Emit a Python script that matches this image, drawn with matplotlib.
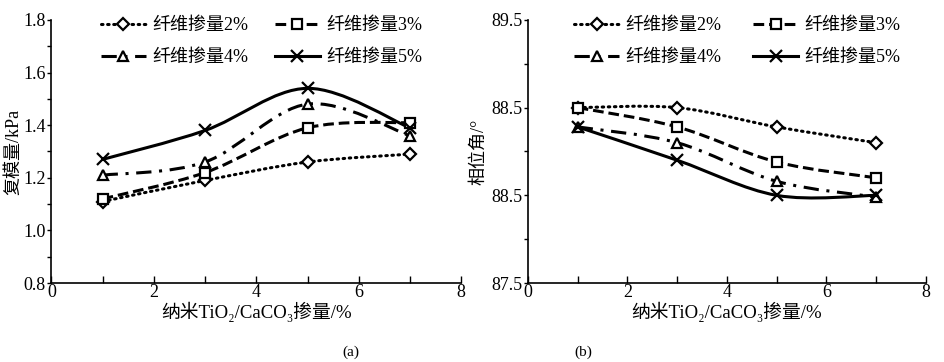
import matplotlib
matplotlib.use('Agg')
import matplotlib.pyplot as plt
from matplotlib.path import Path
from matplotlib.patches import PathPatch
from matplotlib.lines import Line2D
from matplotlib.ticker import MultipleLocator, FixedLocator

plt.rcParams['font.family'] = ['Liberation Serif', 'Noto Sans CJK SC', 'DejaVu Sans']

dosage = [1, 3, 5, 7]
series_names = ['纤维掺量2%', '纤维掺量3%', '纤维掺量4%', '纤维掺量5%']

modulus = [
    [1.11, 1.19, 1.26, 1.29],
    [1.12, 1.22, 1.39, 1.41],
    [1.21, 1.26, 1.48, 1.36],
    [1.27, 1.38, 1.54, 1.39],
]
phase = [
    [88.50, 88.50, 88.39, 88.30],
    [88.50, 88.39, 88.19, 88.10],
    [88.39, 88.30, 88.08, 87.99],
    [88.39, 88.20, 88.00, 88.00],
]
phase_ticks = [87.5, 88.0, 88.5, 89.0]
phase_ticklabels = ['87.5', '88.5', '88.5', '89.5']

styles = [
    dict(ls=(0, (0.5, 1.5)), cap='round', marker='D', ms=6),
    dict(ls=(0, (3.5, 1.6)), cap='butt', marker='s', ms=7),
    dict(ls=(0, (5, 2.5, 1, 2.5)), cap='butt', marker='^', ms=7),
    dict(ls='-', cap='butt', marker='x', ms=8),
]
LW = 2.2


def smooth_path(xs, ys):
    # Catmull-Rom style smoothing drawn as cubic Bezier segments
    pts = list(zip(xs, ys))
    n = len(pts)
    verts = [pts[0]]
    codes = [Path.MOVETO]
    for i in range(n - 1):
        p0 = pts[max(i - 1, 0)]
        p1 = pts[i]
        p2 = pts[i + 1]
        p3 = pts[min(i + 2, n - 1)]
        c1 = (p1[0] + (p2[0] - p0[0]) / 6, p1[1] + (p2[1] - p0[1]) / 6)
        c2 = (p2[0] - (p3[0] - p1[0]) / 6, p2[1] - (p3[1] - p1[1]) / 6)
        verts += [c1, c2, p2]
        codes += [Path.CURVE4] * 3
    return Path(verts, codes)


def draw_panel(ax, data, leg_x, colsp):
    handles = []
    for ys, st, name in zip(data, styles, series_names):
        patch = PathPatch(smooth_path(dosage, ys), fill=False, lw=LW,
                          ls=st['ls'], capstyle=st['cap'],
                          edgecolor='black', zorder=2)
        ax.add_patch(patch)
        ax.plot(dosage, ys, ls='none', marker=st['marker'], ms=st['ms'],
                mfc='white', mec='black', mew=1.6, zorder=3)
        handles.append(Line2D([], [], color='black', lw=LW, ls=st['ls'],
                              dash_capstyle=st['cap'],
                              marker=st['marker'], ms=st['ms'], mfc='white',
                              mec='black', mew=1.6, label=name))
    # legend fills column-wise: reorder so rows read 2%,3% / 4%,5%
    order = [handles[0], handles[2], handles[1], handles[3]]
    ax.legend(handles=order, ncol=2, frameon=False, loc='upper left',
              bbox_to_anchor=(leg_x, 1.037), fontsize=13, handlelength=2.5,
              columnspacing=colsp, labelspacing=0.8, handletextpad=0.35,
              borderaxespad=0)
    ax.set_xlim(0, 8)
    ax.xaxis.set_major_locator(MultipleLocator(2))
    ax.xaxis.set_minor_locator(MultipleLocator(1))
    ax.tick_params(axis='x', which='both', direction='in', labelsize=13,
                   pad=1, length=5, width=1)
    ax.tick_params(axis='y', which='both', direction='out', labelsize=13,
                   width=1, pad=1)
    ax.tick_params(axis='y', which='major', length=3)
    ax.tick_params(axis='y', which='minor', length=3)
    for s in ['top', 'right']:
        ax.spines[s].set_visible(False)
    for s in ['left', 'bottom']:
        ax.spines[s].set_linewidth(1.2)
    ax.set_xlabel('纳米TiO₂/CaCO₃掺量/%', fontsize=13.5, labelpad=0)


fig = plt.figure(figsize=(9.44, 3.62), dpi=100)
ax1 = fig.add_axes([0.0545, 0.218, 0.434, 0.727])
ax2 = fig.add_axes([0.5593, 0.218, 0.4216, 0.727])

draw_panel(ax1, modulus, 0.103, 1.45)
ax1.set_ylim(0.8, 1.8)
ax1.yaxis.set_major_locator(MultipleLocator(0.2))
ax1.yaxis.set_minor_locator(MultipleLocator(0.1))
ax1.yaxis.set_major_formatter(plt.FormatStrFormatter('%.1f'))
ax1.set_ylabel('复模量/kPa', fontsize=13, labelpad=0.5)

draw_panel(ax2, phase, 0.098, 1.75)
ax2.set_ylim(phase_ticks[0], phase_ticks[-1])
ax2.yaxis.set_major_locator(FixedLocator(phase_ticks))
ax2.set_yticklabels(phase_ticklabels)
ax2.yaxis.set_minor_locator(MultipleLocator(0.25))
ax2.set_ylabel('相位角/°', fontsize=13, labelpad=3)

fig.text(0.372, 0.028, '(a)', fontsize=11, ha='center', va='center')
fig.text(0.618, 0.028, '(b)', fontsize=11, ha='center', va='center')

fig.savefig('out.png', dpi=100)
